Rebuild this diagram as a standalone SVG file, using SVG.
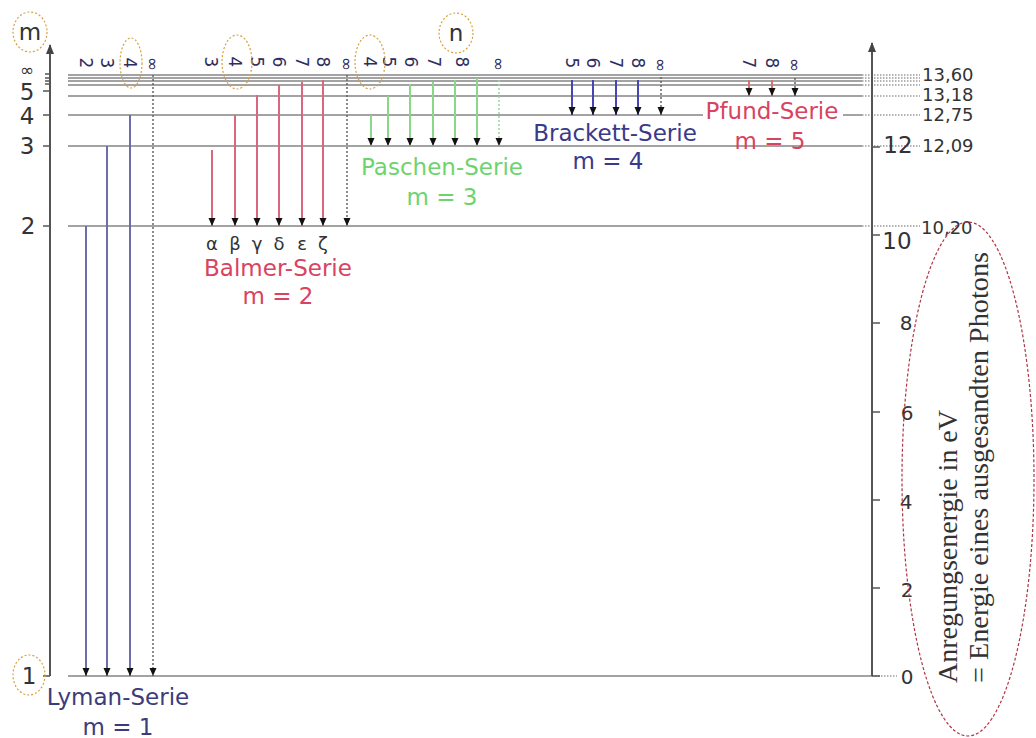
<svg xmlns="http://www.w3.org/2000/svg" width="1036" height="738" viewBox="0 0 1036 738">
<style>
.lvl{stroke:#a3a3a3;stroke-width:2;fill:none}
.ext{stroke:#9a9a9a;stroke-width:1.5;stroke-dasharray:1.5,1.5;fill:none}
.axis{stroke:#555;stroke-width:2;fill:none}
.tick{stroke:#555;stroke-width:1.5}
.num{font-family:"DejaVu Sans",sans-serif;fill:#333}
.big{font-size:23px}
.val{font-size:18px}
.top{font-family:"DejaVu Sans",sans-serif;font-size:17px;fill:#2e2e5e}
.ser{font-family:"DejaVu Sans",sans-serif;font-size:23px;text-anchor:middle}
.ly{stroke:#6d6dab;stroke-width:2}
.ba{stroke:#d9677e;stroke-width:2}
.pa{stroke:#88d888;stroke-width:2}
.br{stroke:#4646b0;stroke-width:2}
.pf{stroke:#d87272;stroke-width:2}
.lim{stroke:#666;stroke-width:1.5;stroke-dasharray:2,2}
.hl{fill:none;stroke:#d9a040;stroke-width:1.2;stroke-dasharray:2,2}
</style>
<defs>
<marker id="ah" markerUnits="userSpaceOnUse" markerWidth="8" markerHeight="8" refX="8" refY="3.5" orient="auto">
<path d="M0,0 L8,3.5 L0,7 z" fill="#111"/>
</marker>
<marker id="ax" markerUnits="userSpaceOnUse" markerWidth="10" markerHeight="9" refX="9" refY="4" orient="auto">
<path d="M0,0 L10,4 L0,8 z" fill="#444"/>
</marker>
</defs>
<rect width="1036" height="738" fill="#fff"/>

<g id="levels">
<line class="lvl" x1="68" y1="75" x2="862" y2="75"/>
<line class="lvl" x1="68" y1="78" x2="862" y2="78"/>
<line class="lvl" x1="68" y1="81" x2="862" y2="81"/>
<line class="lvl" x1="68" y1="85" x2="862" y2="85"/>
<line class="lvl" x1="68" y1="96" x2="862" y2="96"/>
<line class="lvl" x1="68" y1="115" x2="862" y2="115"/>
<line class="lvl" x1="68" y1="146" x2="862" y2="146"/>
<line class="lvl" x1="68" y1="226" x2="862" y2="226"/>
<line class="lvl" x1="68" y1="676" x2="872" y2="676"/>
<line class="ext" x1="862" y1="75" x2="920" y2="75"/>
<line class="ext" x1="862" y1="78" x2="920" y2="78"/>
<line class="ext" x1="862" y1="81" x2="920" y2="81"/>
<line class="ext" x1="862" y1="85" x2="920" y2="85"/>
<line class="ext" x1="862" y1="96" x2="920" y2="96"/>
<line class="ext" x1="862" y1="115" x2="920" y2="115"/>
<line class="ext" x1="862" y1="146" x2="920" y2="146"/>
<line class="ext" x1="862" y1="226" x2="920" y2="226"/>
<line class="ext" x1="872" y1="676" x2="897" y2="676"/>
</g>

<g id="left-axis">
<line class="axis" x1="50" y1="676" x2="50" y2="45" marker-end="url(#ax)"/>
<line class="tick" x1="43" y1="676" x2="50" y2="676"/>
<line class="tick" x1="43" y1="226" x2="50" y2="226"/>
<line class="tick" x1="43" y1="146" x2="50" y2="146"/>
<line class="tick" x1="43" y1="115" x2="50" y2="115"/>
<line class="tick" x1="43" y1="91" x2="50" y2="91"/>
<line class="tick" x1="45" y1="84" x2="50" y2="84"/>
<line class="tick" x1="45" y1="81" x2="50" y2="81"/>
<line class="tick" x1="45" y1="78" x2="50" y2="78"/>
<line class="tick" x1="45" y1="74" x2="50" y2="74"/>
<text class="num big" x="30" y="32" text-anchor="middle" dominant-baseline="central">m</text>
<text class="num" x="27" y="70" font-size="17" text-anchor="middle" dominant-baseline="central">∞</text>
<text class="num big" x="27" y="92" text-anchor="middle" dominant-baseline="central">5</text>
<text class="num big" x="27" y="116" text-anchor="middle" dominant-baseline="central">4</text>
<text class="num big" x="27" y="146" text-anchor="middle" dominant-baseline="central">3</text>
<text class="num big" x="28" y="226" text-anchor="middle" dominant-baseline="central">2</text>
<text class="num big" x="29" y="676" text-anchor="middle" dominant-baseline="central">1</text>
<ellipse class="hl" cx="30" cy="32" rx="17" ry="20"/>
<ellipse class="hl" cx="29" cy="675" rx="16" ry="20"/>
</g>

<g id="right-axis">
<line class="axis" x1="872" y1="676" x2="872" y2="43" marker-end="url(#ax)"/>
<line class="tick" x1="872" y1="676" x2="880" y2="676"/>
<line class="tick" x1="872" y1="588" x2="880" y2="588"/>
<line class="tick" x1="872" y1="500" x2="880" y2="500"/>
<line class="tick" x1="872" y1="412" x2="880" y2="412"/>
<line class="tick" x1="872" y1="323" x2="880" y2="323"/>
<line class="tick" x1="872" y1="235" x2="880" y2="235"/>
<line class="tick" x1="872" y1="147" x2="880" y2="147"/>
<text class="num" font-size="20" x="907" y="677" text-anchor="middle" dominant-baseline="central">0</text>
<text class="num" font-size="20" x="907" y="590" text-anchor="middle" dominant-baseline="central">2</text>
<text class="num" font-size="20" x="906" y="502" text-anchor="middle" dominant-baseline="central">4</text>
<text class="num" font-size="20" x="907" y="413" text-anchor="middle" dominant-baseline="central">6</text>
<text class="num" font-size="20" x="906" y="323" text-anchor="middle" dominant-baseline="central">8</text>
<text class="num big" x="897" y="241" text-anchor="middle" dominant-baseline="central">10</text>
<text class="num big" x="898" y="145" text-anchor="middle" dominant-baseline="central">12</text>
</g>

<g id="values">
<text class="num val" x="922" y="81">13,60</text>
<text class="num val" x="922" y="101">13,18</text>
<text class="num val" x="922" y="121">12,75</text>
<text class="num val" x="922" y="152">12,09</text>
<text class="num val" x="921" y="234">10,20</text>
</g>

<g id="connectors">
<line class="ly" x1="86" y1="226" x2="86" y2="676" marker-end="url(#ah)"/>
<line class="ly" x1="107" y1="146" x2="107" y2="676" marker-end="url(#ah)"/>
<line class="ly" x1="130" y1="115" x2="130" y2="676" marker-end="url(#ah)"/>
<line class="lim" x1="153" y1="75" x2="153" y2="676" marker-end="url(#ah)"/>

<line class="ba" x1="212" y1="150" x2="212" y2="226" marker-end="url(#ah)"/>
<line class="ba" x1="235" y1="115" x2="235" y2="226" marker-end="url(#ah)"/>
<line class="ba" x1="257" y1="95" x2="257" y2="226" marker-end="url(#ah)"/>
<line class="ba" x1="279" y1="85" x2="279" y2="226" marker-end="url(#ah)"/>
<line class="ba" x1="302" y1="82" x2="302" y2="226" marker-end="url(#ah)"/>
<line class="ba" x1="323" y1="80" x2="323" y2="226" marker-end="url(#ah)"/>
<line class="lim" x1="347" y1="75" x2="347" y2="226" marker-end="url(#ah)"/>

<line class="pa" x1="371" y1="115" x2="371" y2="146" marker-end="url(#ah)"/>
<line class="pa" x1="388" y1="96" x2="388" y2="146" marker-end="url(#ah)"/>
<line class="pa" x1="410" y1="84" x2="410" y2="146" marker-end="url(#ah)"/>
<line class="pa" x1="433" y1="82" x2="433" y2="146" marker-end="url(#ah)"/>
<line class="pa" x1="455" y1="80" x2="455" y2="146" marker-end="url(#ah)"/>
<line class="pa" x1="477" y1="78" x2="477" y2="146" marker-end="url(#ah)"/>
<line class="lim" x1="499" y1="80" x2="499" y2="146" marker-end="url(#ah)" style="stroke:#9ad89a"/>

<line class="br" x1="572" y1="80" x2="572" y2="115" marker-end="url(#ah)"/>
<line class="br" x1="593" y1="80" x2="593" y2="115" marker-end="url(#ah)"/>
<line class="br" x1="616" y1="80" x2="616" y2="115" marker-end="url(#ah)"/>
<line class="br" x1="638" y1="80" x2="638" y2="115" marker-end="url(#ah)"/>
<line class="lim" x1="661" y1="77" x2="661" y2="115" marker-end="url(#ah)"/>

<line class="pf" x1="749" y1="80" x2="749" y2="96" marker-end="url(#ah)"/>
<line class="pf" x1="772" y1="80" x2="772" y2="96" marker-end="url(#ah)"/>
<line class="lim" x1="795" y1="78" x2="795" y2="96" marker-end="url(#ah)"/>
</g>

<g id="lyman">
<text class="top" transform="translate(86,63) rotate(90)" text-anchor="middle" dominant-baseline="central">2</text>
<text class="top" transform="translate(107,63) rotate(90)" text-anchor="middle" dominant-baseline="central">3</text>
<text class="top" transform="translate(130,63) rotate(90)" text-anchor="middle" dominant-baseline="central">4</text>
<text class="top" transform="translate(153,64) rotate(90)" text-anchor="middle" dominant-baseline="central" font-size="14">∞</text>
<ellipse class="hl" cx="131" cy="63" rx="11" ry="25"/>
<text class="ser" x="118" y="705" fill="#3c3c7c">Lyman-Serie</text>
<text class="ser" x="118" y="735" fill="#3c3c7c">m = 1</text>
</g>

<g id="balmer">
<text class="top" transform="translate(211,62) rotate(90)" text-anchor="middle" dominant-baseline="central">3</text>
<text class="top" transform="translate(235,62) rotate(90)" text-anchor="middle" dominant-baseline="central">4</text>
<text class="top" transform="translate(257,62) rotate(90)" text-anchor="middle" dominant-baseline="central">5</text>
<text class="top" transform="translate(279,62) rotate(90)" text-anchor="middle" dominant-baseline="central">6</text>
<text class="top" transform="translate(302,62) rotate(90)" text-anchor="middle" dominant-baseline="central">7</text>
<text class="top" transform="translate(323,62) rotate(90)" text-anchor="middle" dominant-baseline="central">8</text>
<text class="top" transform="translate(347,64) rotate(90)" text-anchor="middle" dominant-baseline="central" font-size="14">∞</text>
<ellipse class="hl" cx="237" cy="62" rx="15" ry="27"/>
<g class="num" font-size="18" text-anchor="middle">
<text x="212" y="250">α</text>
<text x="235" y="250">β</text>
<text x="257" y="250">γ</text>
<text x="279" y="250">δ</text>
<text x="302" y="250">ε</text>
<text x="323" y="250">ζ</text>
</g>
<text class="ser" x="278" y="276" fill="#d9435f">Balmer-Serie</text>
<text class="ser" x="278" y="304" fill="#d9435f">m = 2</text>
</g>

<g id="paschen">
<text class="top" transform="translate(370,62) rotate(90)" text-anchor="middle" dominant-baseline="central">4</text>
<text class="top" transform="translate(389,62) rotate(90)" text-anchor="middle" dominant-baseline="central">5</text>
<text class="top" transform="translate(411,62) rotate(90)" text-anchor="middle" dominant-baseline="central">6</text>
<text class="top" transform="translate(434,62) rotate(90)" text-anchor="middle" dominant-baseline="central">7</text>
<text class="top" transform="translate(462,62) rotate(90)" text-anchor="middle" dominant-baseline="central">8</text>
<text class="top" transform="translate(499,64) rotate(90)" text-anchor="middle" dominant-baseline="central" font-size="14">∞</text>
<ellipse class="hl" cx="370" cy="62" rx="15" ry="27"/>
<text class="num big" x="456" y="33" text-anchor="middle" dominant-baseline="central">n</text>
<ellipse class="hl" cx="456" cy="33" rx="17" ry="20"/>
<text class="ser" x="442" y="175" fill="#6dd46d">Paschen-Serie</text>
<text class="ser" x="442" y="205" fill="#6dd46d">m = 3</text>
</g>

<g id="brackett">
<text class="top" transform="translate(572,63) rotate(90)" text-anchor="middle" dominant-baseline="central">5</text>
<text class="top" transform="translate(593,63) rotate(90)" text-anchor="middle" dominant-baseline="central">6</text>
<text class="top" transform="translate(616,63) rotate(90)" text-anchor="middle" dominant-baseline="central">7</text>
<text class="top" transform="translate(638,63) rotate(90)" text-anchor="middle" dominant-baseline="central">8</text>
<text class="top" transform="translate(661,65) rotate(90)" text-anchor="middle" dominant-baseline="central" font-size="14">∞</text>
<text class="ser" x="615" y="141" fill="#3a3a8a">Brackett-Serie</text>
<text class="ser" x="608" y="169" fill="#3a3a8a">m = 4</text>
</g>

<g id="pfund">
<text class="top" transform="translate(749,63) rotate(90)" text-anchor="middle" dominant-baseline="central">7</text>
<text class="top" transform="translate(772,63) rotate(90)" text-anchor="middle" dominant-baseline="central">8</text>
<text class="top" transform="translate(795,65) rotate(90)" text-anchor="middle" dominant-baseline="central" font-size="14">∞</text>
<rect x="703" y="101" width="140" height="22" fill="#fff"/>
<text class="ser" x="772" y="119" fill="#d9435f">Pfund-Serie</text>
<text class="ser" x="770" y="149" fill="#d9435f">m = 5</text>
</g>

<g id="energy-label">
<ellipse cx="968" cy="479" rx="66" ry="257" fill="none" stroke="#b03545" stroke-width="1.2" stroke-dasharray="3,2"/>
<text transform="translate(957,683) rotate(-90)" font-family="'Liberation Serif',serif" font-size="27" fill="#333" textLength="273" lengthAdjust="spacingAndGlyphs">Anregungsenergie in eV</text>
<text transform="translate(988,683) rotate(-90)" font-family="'Liberation Serif',serif" font-size="27" fill="#333" textLength="431" lengthAdjust="spacingAndGlyphs">= Energie eines ausgesandten Photons</text>
</g>
</svg>
